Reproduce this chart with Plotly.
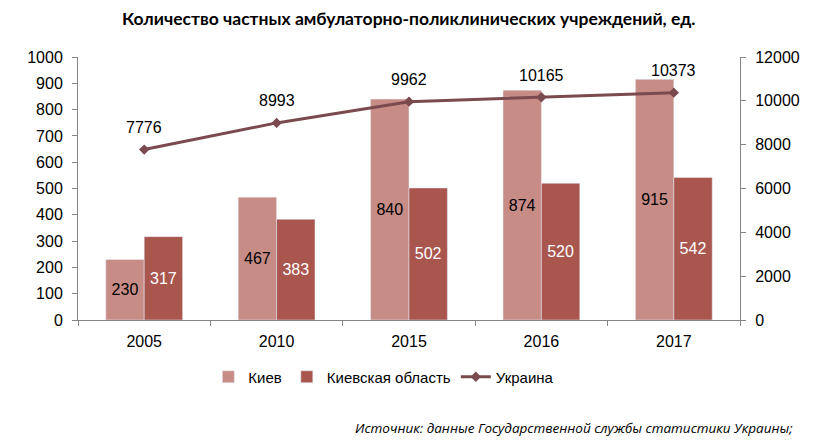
import plotly.graph_objects as go

years = ["2005", "2010", "2015", "2016", "2017"]
kiev = [230, 467, 840, 874, 915]
kiev_obl = [317, 383, 502, 520, 542]
ukraine = [7776, 8993, 9962, 10165, 10373]

title = "Количество частных амбулаторно-поликлинических учреждений, ед."
source = "Источник: данные Государственной службы статистики Украины;"

c_kiev = "#C78C86"
c_obl = "#A9564F"
c_line = "#7B4A4E"
axis_col = "#868686"
fnt = "Liberation Sans"

fig = go.Figure()
fig.add_trace(go.Bar(
    x=years, y=kiev, name="Киев", marker_color=c_kiev,
    text=[str(v) for v in kiev], textposition="inside", insidetextanchor="middle",
    textfont=dict(color="black", size=16, family=fnt), textangle=0,
))
fig.add_trace(go.Bar(
    x=years, y=kiev_obl, name="Киевская область", marker_color=c_obl,
    text=[str(v) for v in kiev_obl], textposition="inside", insidetextanchor="middle",
    textfont=dict(color="white", size=16, family=fnt), textangle=0,
))
fig.add_trace(go.Scatter(
    x=years, y=ukraine, name="Украина", yaxis="y2", mode="lines+markers",
    line=dict(color=c_line, width=3),
    marker=dict(symbol="diamond", size=8, color=c_line),
))

for i, v in enumerate(ukraine):
    fig.add_annotation(
        x=i, y=v, xref="x", yref="y2", text=str(v), showarrow=False,
        yshift=22, font=dict(size=16, family=fnt, color="black"),
    )
fig.add_annotation(
    x=0.5, y=1.0, xref="paper", yref="paper", xanchor="center", yanchor="middle",
    yshift=39, text="<b>" + title + "</b>", showarrow=False,
    font=dict(size=17.5, family="Lato", color="black"),
)
fig.add_annotation(
    x=1.0, y=0, xref="paper", yref="paper", xanchor="right", yanchor="middle",
    xshift=55, yshift=-108,
    text="<i>" + source + "</i>", showarrow=False,
    font=dict(size=13.5, family="Open Sans", color="black"),
)

fig.update_layout(
    width=838, height=446,
    margin=dict(l=70, r=106, t=49, b=134),
    paper_bgcolor="white", plot_bgcolor="white",
    barmode="group", bargap=0.42, bargroupgap=0,
    showlegend=True,
    legend=dict(orientation="h", x=0.462, xanchor="center", y=-0.154, yanchor="top",
                font=dict(size=15, family=fnt, color="black"),
                traceorder="normal"),
    font=dict(family=fnt, size=16, color="black"),
    xaxis=dict(
        type="category", range=[-0.5, len(years) - 0.5], autorange=False,
        showline=True, linecolor=axis_col, linewidth=1,
        ticks="outside", tickson="boundaries", ticklen=5, tickcolor=axis_col,
        tickfont=dict(size=16, family=fnt, color="black"), showgrid=False,
        automargin=False, ticklabelstandoff=7,
    ),
    yaxis=dict(
        range=[0, 1000], dtick=100, showline=True, linecolor=axis_col, linewidth=1,
        ticks="outside", ticklen=5, tickcolor=axis_col, showgrid=False, zeroline=False,
        tickfont=dict(size=16, family=fnt, color="black"), ticklabelstandoff=6,
        automargin=False,
    ),
    yaxis2=dict(
        range=[0, 12000], dtick=2000, tickformat="d", overlaying="y", side="right",
        showline=True, linecolor=axis_col, linewidth=1,
        ticks="outside", ticklen=5, tickcolor=axis_col, showgrid=False, zeroline=False,
        tickfont=dict(size=16, family=fnt, color="black"), ticklabelstandoff=6,
        automargin=False,
    ),
)

fig.write_html("out.html")
